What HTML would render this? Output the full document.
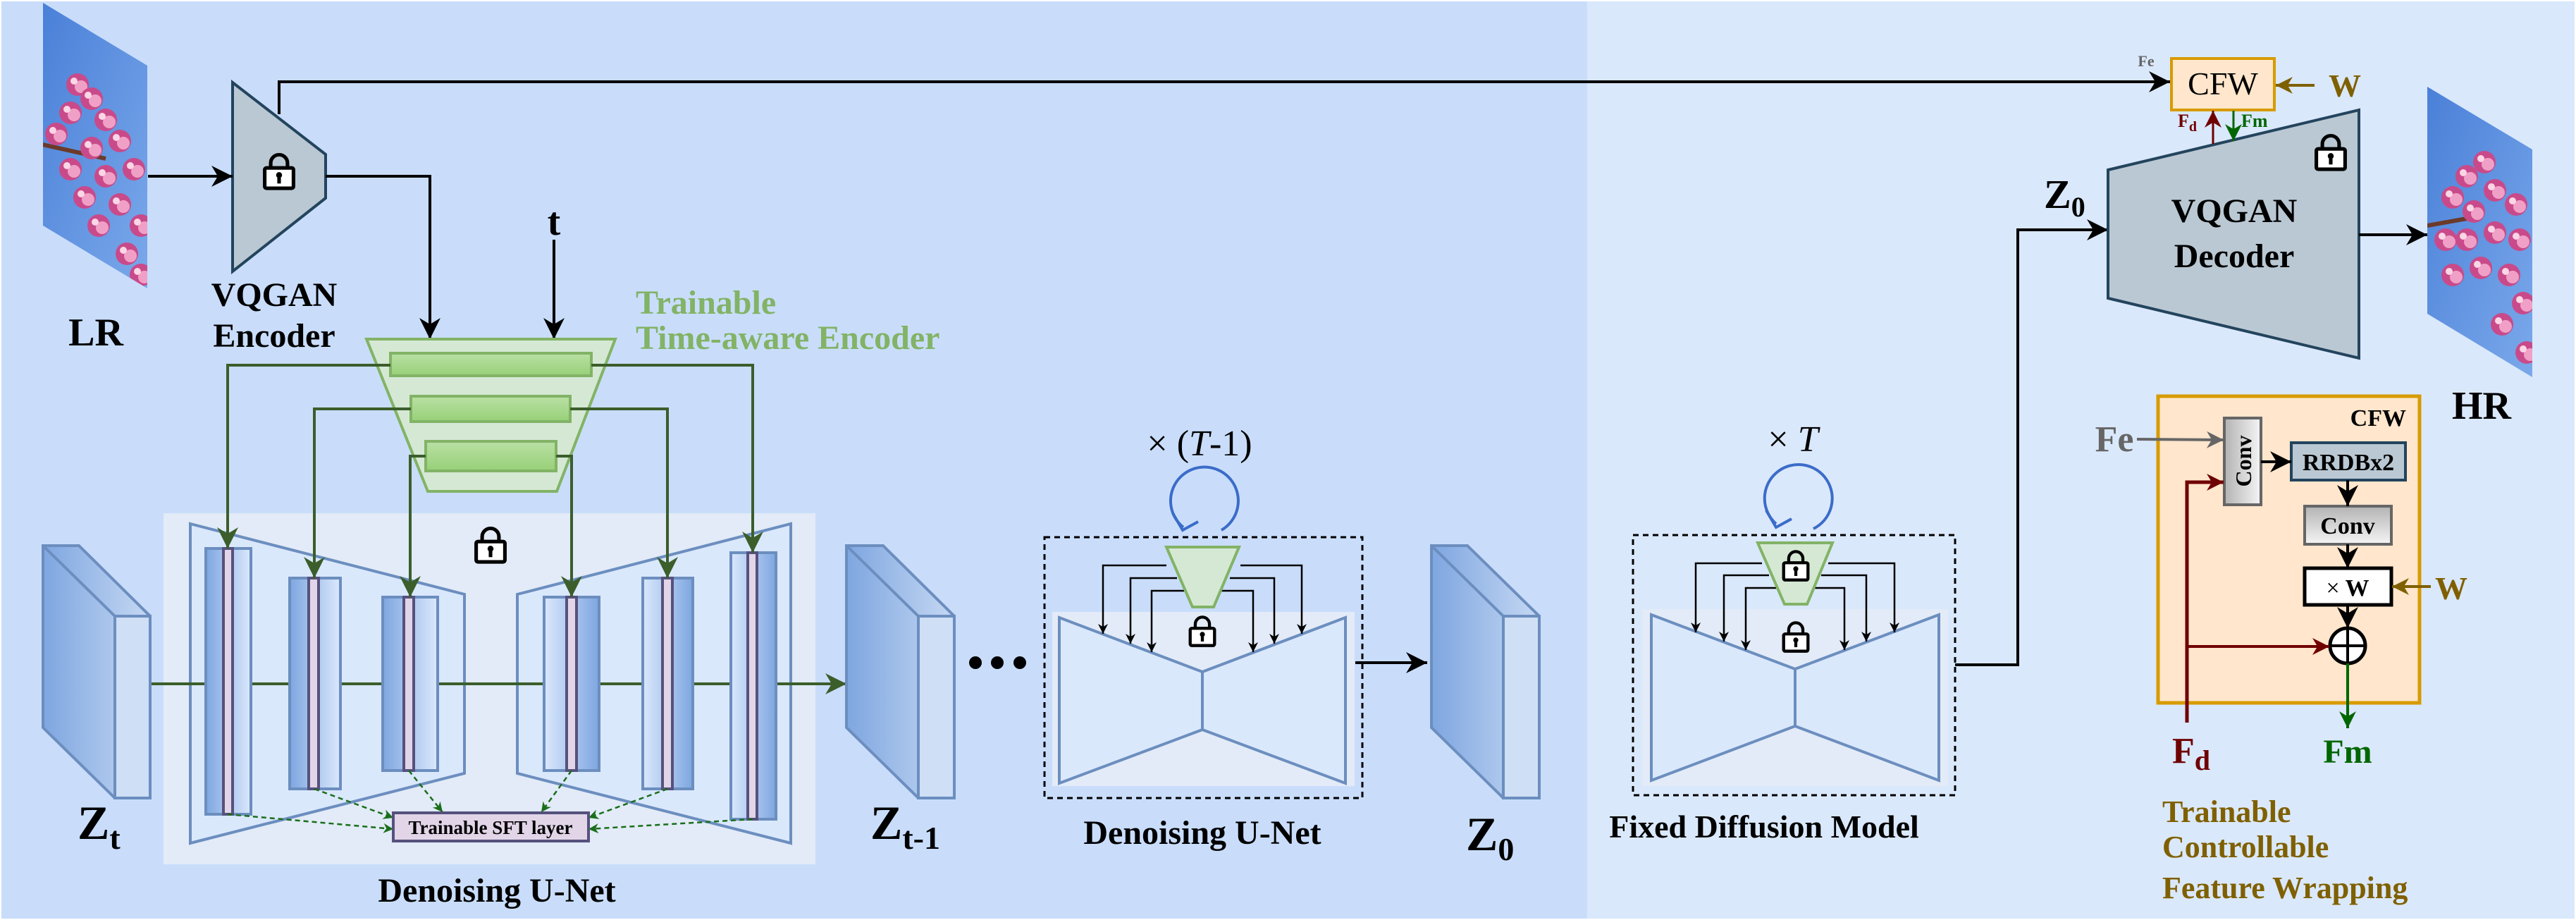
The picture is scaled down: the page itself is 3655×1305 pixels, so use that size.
<!DOCTYPE html>
<html><head><meta charset="utf-8"><style>
html,body{margin:0;padding:0;background:#fff}
svg{display:block}
svg text{font-family:"Liberation Serif","Times New Roman",serif !important;font-weight:bold}
</style></head><body>
<svg width="3655" height="1305" viewBox="0 0 3655 1305" xmlns="http://www.w3.org/2000/svg" font-family="Liberation Serif, serif">
<defs>
<marker id="abs" viewBox="0 0 10 10" refX="10" refY="5" markerWidth="14" markerHeight="14" markerUnits="userSpaceOnUse" orient="auto"><path d="M0,0 L10,5 L0,10 L3,5 z" fill="#000"/></marker>
<marker id="abk" viewBox="0 0 10 10" refX="10" refY="5" markerWidth="30" markerHeight="30" markerUnits="userSpaceOnUse" orient="auto"><path d="M0,0 L10,5 L0,10 L3,5 z" fill="#000"/></marker>
<marker id="ag" viewBox="0 0 10 10" refX="10" refY="5" markerWidth="30" markerHeight="30" markerUnits="userSpaceOnUse" orient="auto"><path d="M0,0 L10,5 L0,10 L3,5 z" fill="#3b5e2b"/></marker>
<marker id="agd" viewBox="0 0 10 10" refX="10" refY="5" markerWidth="14" markerHeight="14" markerUnits="userSpaceOnUse" orient="auto"><path d="M0,0 L10,5 L0,10 L3,5 z" fill="#1a6e1a"/></marker>
<marker id="ared" viewBox="0 0 10 10" refX="10" refY="5" markerWidth="24" markerHeight="24" markerUnits="userSpaceOnUse" orient="auto"><path d="M0,0 L10,5 L0,10 L3,5 z" fill="#6f0000"/></marker>
<marker id="agn" viewBox="0 0 10 10" refX="10" refY="5" markerWidth="24" markerHeight="24" markerUnits="userSpaceOnUse" orient="auto"><path d="M0,0 L10,5 L0,10 L3,5 z" fill="#006600"/></marker>
<marker id="agy" viewBox="0 0 10 10" refX="10" refY="5" markerWidth="24" markerHeight="24" markerUnits="userSpaceOnUse" orient="auto"><path d="M0,0 L10,5 L0,10 L3,5 z" fill="#666"/></marker>
<marker id="abr" viewBox="0 0 10 10" refX="10" refY="5" markerWidth="24" markerHeight="24" markerUnits="userSpaceOnUse" orient="auto"><path d="M0,0 L10,5 L0,10 L3,5 z" fill="#7f6000"/></marker>
<linearGradient id="gbar" x1="0" y1="0" x2="0" y2="1"><stop offset="0" stop-color="#b9e0a5"/><stop offset="1" stop-color="#97d077"/></linearGradient>
<linearGradient id="gcolL" x1="0" y1="0" x2="1" y2="0"><stop offset="0" stop-color="#7ea6e0"/><stop offset="1" stop-color="#dae8fc"/></linearGradient>
<linearGradient id="gcolR" x1="1" y1="0" x2="0" y2="0"><stop offset="0" stop-color="#7ea6e0"/><stop offset="1" stop-color="#dae8fc"/></linearGradient>
<linearGradient id="gbox" x1="0" y1="0" x2="1" y2="0"><stop offset="0" stop-color="#7ea6e0"/><stop offset="1" stop-color="#c5d8f3"/></linearGradient>
<linearGradient id="ggray" x1="0" y1="0" x2="1" y2="0"><stop offset="0" stop-color="#b3b3b3"/><stop offset="1" stop-color="#f5f5f5"/></linearGradient>
<linearGradient id="ggray2" x1="0" y1="0" x2="0" y2="1"><stop offset="0" stop-color="#b3b3b3"/><stop offset="1" stop-color="#f5f5f5"/></linearGradient>
<linearGradient id="gsky" x1="0" y1="0" x2="1" y2="1"><stop offset="0" stop-color="#4a80d8"/><stop offset="1" stop-color="#7aa8ea"/></linearGradient>
<g id="lock"><path d="M-14,-8 v-8 a14,14 0 0 1 28,0 v8" fill="none" stroke="#000" stroke-width="6"/><rect x="-24" y="-8" width="48" height="34" rx="3" fill="#fff" stroke="#000" stroke-width="6"/><circle cx="0" cy="4" r="5" fill="#000"/><rect x="-3" y="4" width="6" height="14" fill="#000"/></g>
<g id="flower">
<circle cx="0" cy="0" r="16" fill="#c94a8a"/><circle cx="5" cy="3" r="9" fill="#f0a0c6"/><circle cx="-5" cy="-5" r="5" fill="#fbd6e6"/></g>
<clipPath id="clr"><polygon points="61,4 209,93 209,409 61,320"/></clipPath>
<clipPath id="chr"><polygon points="3444,123 3593,212 3593,535 3444,445"/></clipPath>
</defs>

<rect x="0" y="0" width="3655" height="1305" fill="#fff"/>
<rect x="2" y="2" width="2250" height="1301" fill="#c9ddfb"/>
<rect x="2252" y="2" width="1401" height="1301" fill="#dae8fb"/>

<!-- LR image -->
<polygon points="61,4 209,93 209,409 61,320" fill="url(#gsky)"/>
<g clip-path="url(#clr)">
<path d="M60,205 L150,225" stroke="#6b3a2a" stroke-width="6"/>
<use href="#flower" x="110" y="120"/><use href="#flower" x="130" y="140"/><use href="#flower" x="100" y="160"/>
<use href="#flower" x="150" y="170"/><use href="#flower" x="80" y="190"/><use href="#flower" x="170" y="200"/>
<use href="#flower" x="130" y="210"/><use href="#flower" x="100" y="240"/><use href="#flower" x="150" y="250"/>
<use href="#flower" x="190" y="240"/><use href="#flower" x="120" y="280"/><use href="#flower" x="170" y="290"/>
<use href="#flower" x="200" y="320"/><use href="#flower" x="180" y="360"/><use href="#flower" x="200" y="390"/>
<use href="#flower" x="140" y="320"/>
</g>
<text x="136" y="490" font-size="56" text-anchor="middle">LR</text>

<!-- VQGAN encoder -->
<polygon points="330,117 462,219 462,281 330,385" fill="#bac8d3" stroke="#23445d" stroke-width="4"/>
<use href="#lock" transform="translate(396,245) scale(0.85)"/>
<line x1="210" y1="250" x2="330" y2="250" stroke="#000" stroke-width="4" marker-end="url(#abk)"/>
<text x="389" y="434" font-size="48" text-anchor="middle">VQGAN</text>
<text x="389" y="492" font-size="48" text-anchor="middle">Encoder</text>

<polyline points="396,162 396,116 3079,116" fill="none" stroke="#000" stroke-width="4" marker-end="url(#abk)"/>

<polyline points="462,250 610,250 610,481" fill="none" stroke="#000" stroke-width="4" marker-end="url(#abk)"/>
<text x="786" y="333" font-size="56" text-anchor="middle">t</text>
<line x1="786" y1="340" x2="786" y2="481" stroke="#000" stroke-width="4" marker-end="url(#abk)"/>

<!-- Time-aware encoder -->
<polygon points="520,481 873,481 790,697 607,697" fill="#d5e8d4" stroke="#82b366" stroke-width="4"/>
<rect x="554" y="501" width="285" height="32" fill="url(#gbar)" stroke="#82b366" stroke-width="4"/>
<rect x="583" y="562" width="226" height="36" fill="url(#gbar)" stroke="#82b366" stroke-width="4"/>
<rect x="604" y="626" width="185" height="42" fill="url(#gbar)" stroke="#82b366" stroke-width="4"/>
<text x="902" y="445" font-size="48" fill="#82b366">Trainable</text>
<text x="902" y="495" font-size="48" fill="#82b366">Time-aware Encoder</text>

<!-- Unet light box -->
<rect x="232" y="728" width="925" height="498" fill="#e2ebf7"/>
<polygon points="270,743 659,843 659,1097 270,1196" fill="#dae8fc" stroke="#6c8ebf" stroke-width="4"/>
<polygon points="734,843 1122,743 1122,1196 734,1097" fill="#dae8fc" stroke="#6c8ebf" stroke-width="4"/>
<use href="#lock" transform="translate(696,775) scale(0.85)"/>

<line x1="214" y1="970" x2="1201" y2="970" stroke="#3b5e2b" stroke-width="4" marker-end="url(#ag)"/>

<g stroke="#6c8ebf" stroke-width="4">
<rect x="292" y="778" width="64" height="377" fill="url(#gcolL)"/>
<rect x="411" y="820" width="72" height="299" fill="url(#gcolL)"/>
<rect x="543" y="847" width="78" height="246" fill="url(#gcolL)"/>
<rect x="772" y="847" width="78" height="246" fill="url(#gcolR)"/>
<rect x="912" y="820" width="71" height="299" fill="url(#gcolR)"/>
<rect x="1037" y="784" width="64" height="378" fill="url(#gcolR)"/>
</g>
<g fill="#e1d5e7" stroke="#56517e" stroke-width="4">
<rect x="317" y="778" width="13" height="377"/>
<rect x="438" y="820" width="14" height="299"/>
<rect x="573" y="847" width="14" height="246"/>
<rect x="804" y="847" width="14" height="246"/>
<rect x="940" y="820" width="14" height="299"/>
<rect x="1061" y="784" width="13" height="378"/>
</g>

<g fill="none" stroke="#3b5e2b" stroke-width="4">
<polyline points="554,518 323,518 323,778" marker-end="url(#ag)"/>
<polyline points="839,518 1068,518 1068,784" marker-end="url(#ag)"/>
<polyline points="583,580 446,580 446,820" marker-end="url(#ag)"/>
<polyline points="809,580 947,580 947,820" marker-end="url(#ag)"/>
<polyline points="604,647 582,647 582,847" marker-end="url(#ag)"/>
<polyline points="789,647 811,647 811,847" marker-end="url(#ag)"/>
</g>

<g fill="none" stroke="#1a6e1a" stroke-width="2.5" stroke-dasharray="7,5">
<line x1="323" y1="1155" x2="558" y2="1176" marker-end="url(#agd)"/>
<line x1="446" y1="1119" x2="558" y2="1160" marker-end="url(#agd)"/>
<line x1="580" y1="1093" x2="628" y2="1152" marker-end="url(#agd)"/>
<line x1="811" y1="1093" x2="768" y2="1152" marker-end="url(#agd)"/>
<line x1="947" y1="1119" x2="835" y2="1160" marker-end="url(#agd)"/>
<line x1="1068" y1="1162" x2="835" y2="1176" marker-end="url(#agd)"/>
</g>
<rect x="558" y="1153" width="277" height="40" fill="#e1d5e7" stroke="#56517e" stroke-width="4"/>
<text x="696" y="1183" font-size="27" text-anchor="middle">Trainable SFT layer</text>
<text x="705" y="1279" font-size="48" text-anchor="middle">Denoising U-Net</text>

<!-- Zt box -->
<g stroke="#6c8ebf" stroke-width="4">
<polygon points="61,774 112,774 213,874 213,1132 163,1132 61,1032" fill="url(#gbox)"/>
<polygon points="163,874 213,874 213,1132 163,1132" fill="#cfdff5"/>
<polyline points="61,774 163,874" fill="none"/>
</g>
<text x="110" y="1190" font-size="68">Z<tspan font-size="46" dy="14">t</tspan></text>

<g stroke="#6c8ebf" stroke-width="4">
<polygon points="1201,774 1253,774 1354,874 1354,1132 1303,1132 1201,1032" fill="url(#gbox)"/>
<polygon points="1303,874 1354,874 1354,1132 1303,1132" fill="#cfdff5"/>
<polyline points="1201,774 1303,874" fill="none"/>
</g>
<text x="1235" y="1190" font-size="68">Z<tspan font-size="46" dy="14">t-1</tspan></text>

<circle cx="1384" cy="940" r="9"/><circle cx="1415" cy="940" r="9"/><circle cx="1447" cy="940" r="9"/>

<!-- middle denoising unet -->
<text x="1702" y="646" font-size="52" text-anchor="middle" style="font-weight:normal">× (<tspan font-style="italic">T</tspan>-1)</text>
<path d="M1679,748 A48,48 0 1 1 1733,752" fill="none" stroke="#3b6cc9" stroke-width="4"/>
<path d="M1664,728 L1678,752 L1700,740" fill="none" stroke="#3b6cc9" stroke-width="4"/>
<rect x="1482" y="762" width="451" height="370" fill="none" stroke="#000" stroke-width="3" stroke-dasharray="8,6"/>
<rect x="1493" y="868" width="429" height="247" fill="#e2ebf7"/>
<polygon points="1503,876 1706,953 1909,876 1909,1111 1706,1035 1503,1111" fill="#dae8fc" stroke="#6c8ebf" stroke-width="4"/>
<line x1="1706" y1="953" x2="1706" y2="1035" stroke="#6c8ebf" stroke-width="4"/>
<g fill="none" stroke="#000" stroke-width="2.5">
<polyline points="1655,802 1565,802 1565,899" marker-end="url(#abs)"/>
<polyline points="1760,802 1847,802 1847,899" marker-end="url(#abs)"/>
<polyline points="1670,820 1604,820 1604,913" marker-end="url(#abs)"/>
<polyline points="1745,820 1808,820 1808,913" marker-end="url(#abs)"/>
<polyline points="1680,838 1634,838 1634,925" marker-end="url(#abs)"/>
<polyline points="1730,838 1778,838 1778,925" marker-end="url(#abs)"/>
</g>
<polygon points="1655,776 1758,776 1722,861 1692,861" fill="#d5e8d4" stroke="#82b366" stroke-width="4"/>
<use href="#lock" transform="translate(1706,897) scale(0.72)"/>
<text x="1706" y="1197" font-size="48" text-anchor="middle">Denoising U-Net</text>
<line x1="1923" y1="940" x2="2025" y2="940" stroke="#000" stroke-width="4" marker-end="url(#abk)"/>

<g stroke="#6c8ebf" stroke-width="4">
<polygon points="2031,774 2082,774 2184,874 2184,1132 2133,1132 2031,1032" fill="url(#gbox)"/>
<polygon points="2133,874 2184,874 2184,1132 2133,1132" fill="#cfdff5"/>
<polyline points="2031,774 2133,874" fill="none"/>
</g>
<text x="2080" y="1206" font-size="68">Z<tspan font-size="46" dy="14">0</tspan></text>

<!-- Fixed diffusion -->
<text x="2544" y="640" font-size="52" text-anchor="middle" style="font-weight:normal">× <tspan font-style="italic">T</tspan></text>
<path d="M2520,743 A48,48 0 1 1 2573,750" fill="none" stroke="#3b6cc9" stroke-width="4"/>
<path d="M2506,724 L2520,748 L2542,736" fill="none" stroke="#3b6cc9" stroke-width="4"/>
<rect x="2317" y="759" width="457" height="369" fill="none" stroke="#000" stroke-width="3" stroke-dasharray="8,6"/>
<rect x="2330" y="864" width="434" height="251" fill="#e2ebf7"/>
<polygon points="2343,872 2547,949 2751,872 2751,1107 2547,1030 2343,1107" fill="#dae8fc" stroke="#6c8ebf" stroke-width="4"/>
<line x1="2547" y1="949" x2="2547" y2="1030" stroke="#6c8ebf" stroke-width="4"/>
<g fill="none" stroke="#000" stroke-width="2.5">
<polyline points="2500,799 2406,799 2406,897" marker-end="url(#abs)"/>
<polyline points="2594,799 2688,799 2688,897" marker-end="url(#abs)"/>
<polyline points="2510,816 2446,816 2446,910" marker-end="url(#abs)"/>
<polyline points="2584,816 2648,816 2648,910" marker-end="url(#abs)"/>
<polyline points="2520,834 2477,834 2477,922" marker-end="url(#abs)"/>
<polyline points="2574,834 2617,834 2617,922" marker-end="url(#abs)"/>
</g>
<polygon points="2494,770 2600,770 2564,857 2532,857" fill="#d5e8d4" stroke="#82b366" stroke-width="4"/>
<use href="#lock" transform="translate(2548,804) scale(0.72)"/>
<use href="#lock" transform="translate(2548,905) scale(0.72)"/>
<text x="2503" y="1188" font-size="46" text-anchor="middle">Fixed Diffusion Model</text>

<polyline points="2774,943 2863,943 2863,326 2991,326" fill="none" stroke="#000" stroke-width="4" marker-end="url(#abk)"/>
<text x="2900" y="295" font-size="58">Z<tspan font-size="40" dy="12">0</tspan></text>

<!-- decoder -->
<polygon points="2991,241 3347,156 3347,508 2991,423" fill="#bac8d3" stroke="#23445d" stroke-width="4"/>
<use href="#lock" transform="translate(3307,218) scale(0.85)"/>
<text x="3170" y="315" font-size="48" text-anchor="middle">VQGAN</text>
<text x="3170" y="379" font-size="48" text-anchor="middle">Decoder</text>
<line x1="3347" y1="333" x2="3444" y2="333" stroke="#000" stroke-width="4" marker-end="url(#abk)"/>

<!-- HR image -->
<polygon points="3444,123 3593,212 3593,535 3444,445" fill="url(#gsky)"/>
<g clip-path="url(#chr)">
<path d="M3444,320 L3500,310" stroke="#6b3a2a" stroke-width="6"/>
<use href="#flower" x="3500" y="250"/><use href="#flower" x="3525" y="230"/><use href="#flower" x="3480" y="280"/>
<use href="#flower" x="3540" y="270"/><use href="#flower" x="3570" y="290"/><use href="#flower" x="3510" y="300"/>
<use href="#flower" x="3470" y="340"/><use href="#flower" x="3500" y="340"/><use href="#flower" x="3540" y="330"/>
<use href="#flower" x="3575" y="340"/><use href="#flower" x="3520" y="380"/><use href="#flower" x="3560" y="390"/>
<use href="#flower" x="3580" y="430"/><use href="#flower" x="3550" y="460"/><use href="#flower" x="3585" y="500"/>
<use href="#flower" x="3480" y="390"/>
</g>
<text x="3521" y="594" font-size="56" text-anchor="middle">HR</text>

<!-- small CFW -->
<rect x="3081" y="83" width="146" height="73" fill="#ffe6cc" stroke="#d79b00" stroke-width="4"/>
<text x="3154" y="134" font-size="46" text-anchor="middle" style="font-weight:normal">CFW</text>
<text x="3045" y="94" font-size="22" text-anchor="middle" fill="#666">Fe</text>
<line x1="3284" y1="121" x2="3229" y2="121" stroke="#7f6000" stroke-width="4" marker-end="url(#abr)"/>
<text x="3327" y="137" font-size="46" text-anchor="middle" fill="#7f6000">W</text>
<line x1="3140" y1="204" x2="3140" y2="157" stroke="#6f0000" stroke-width="3" marker-end="url(#ared)"/>
<line x1="3169" y1="157" x2="3169" y2="200" stroke="#006600" stroke-width="3" marker-end="url(#agn)"/>
<text x="3090" y="180" font-size="26" fill="#6f0000">F<tspan font-size="20" dy="6">d</tspan></text>
<text x="3180" y="180" font-size="26" fill="#006600">Fm</text>

<!-- big CFW -->
<rect x="3062" y="562" width="371" height="435" fill="#ffe6cc" stroke="#d79b00" stroke-width="5"/>
<text x="3414" y="604" font-size="34" text-anchor="end">CFW</text>
<rect x="3156" y="593" width="52" height="123" fill="url(#ggray)" stroke="#666" stroke-width="4"/>
<text transform="translate(3194,654) rotate(-90)" font-size="32" text-anchor="middle">Conv</text>
<rect x="3251" y="628" width="162" height="53" fill="#bac8d3" stroke="#23445d" stroke-width="4"/>
<text x="3332" y="667" font-size="34" text-anchor="middle">RRDBx2</text>
<rect x="3270" y="718" width="123" height="54" fill="url(#ggray2)" stroke="#666" stroke-width="4"/>
<text x="3331" y="757" font-size="34" text-anchor="middle">Conv</text>
<rect x="3270" y="806" width="123" height="52" fill="#fff" stroke="#000" stroke-width="5"/>
<text x="3331" y="845" font-size="34" text-anchor="middle"><tspan style="font-weight:normal">×</tspan> W</text>
<circle cx="3331" cy="916" r="25" fill="#fff" stroke="#000" stroke-width="5"/>
<line x1="3306" y1="916" x2="3356" y2="916" stroke="#000" stroke-width="4"/>
<line x1="3331" y1="891" x2="3331" y2="941" stroke="#000" stroke-width="4"/>
<g stroke="#000" stroke-width="4" fill="none">
<line x1="3208" y1="655" x2="3251" y2="655" marker-end="url(#abk)"/>
<line x1="3331" y1="681" x2="3331" y2="718" marker-end="url(#abk)"/>
<line x1="3331" y1="772" x2="3331" y2="806" marker-end="url(#abk)"/>
<line x1="3331" y1="858" x2="3331" y2="891" marker-end="url(#abk)"/>
</g>
<line x1="3032" y1="623" x2="3155" y2="624" stroke="#666" stroke-width="4" marker-end="url(#agy)"/>
<text x="3000" y="640" font-size="52" text-anchor="middle" fill="#666">Fe</text>
<polyline points="3103,1025 3103,684 3155,684" fill="none" stroke="#6f0000" stroke-width="5" marker-end="url(#ared)"/>
<line x1="3103" y1="917" x2="3305" y2="917" stroke="#6f0000" stroke-width="4" marker-end="url(#ared)"/>
<line x1="3331" y1="941" x2="3331" y2="1033" stroke="#006600" stroke-width="4" marker-end="url(#agn)"/>
<line x1="3449" y1="832" x2="3394" y2="832" stroke="#7f6000" stroke-width="4" marker-end="url(#abr)"/>
<text x="3478" y="850" font-size="46" text-anchor="middle" fill="#7f6000">W</text>
<text x="3082" y="1082" font-size="52" fill="#6f0000">F<tspan font-size="40" dy="10">d</tspan></text>
<text x="3331" y="1082" font-size="48" fill="#006600" text-anchor="middle">Fm</text>
<text x="3068" y="1166" font-size="44" fill="#7f6000">Trainable</text>
<text x="3068" y="1216" font-size="44" fill="#7f6000">Controllable</text>
<text x="3068" y="1274" font-size="44" fill="#7f6000">Feature Wrapping</text>
</svg>
</body></html>
